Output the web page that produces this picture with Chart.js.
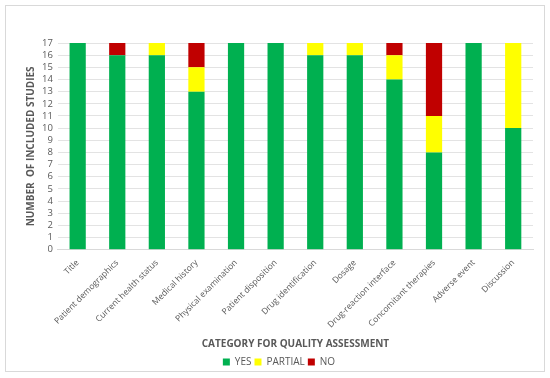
<!DOCTYPE html>
<html>
<head>
<meta charset="utf-8">
<script src="https://cdn.jsdelivr.net/npm/chart.js@4"></script>
<style>
  body { margin: 0; background: #fff; }
  #frame {
    position: absolute; left: 5px; top: 5px;
    width: 538px; height: 365px;
    border: 1px solid #d9d9d9;
  }
  #chart { position: absolute; left: 0; top: 0; }
</style>
</head>
<body>
<div id="frame"></div>
<canvas id="chart" width="550" height="378"></canvas>
<script>
// Categories and counts
const categories = [
    "Title", "Patient demographics", "Current health status", "Medical history",
    "Physical examination", "Patient disposition", "Drug identification", "Dosage",
    "Drug-reaction interface", "Concomitant therapies", "Adverse event", "Discussion"
];
const yesCounts     = [17, 16, 16, 13, 17, 17, 16, 16, 14, 8, 17, 10];
const partialCounts = [0, 0, 1, 2, 0, 0, 1, 1, 2, 3, 0, 7];
const noCounts      = [0, 1, 0, 2, 0, 0, 0, 0, 1, 6, 0, 0];
const yTicks = [0, 1, 2, 3, 4, 5, 6, 7, 8, 9, 10, 11, 12, 13, 14, 15, 16, 17];

const textColor = "#595959";
const fontFamily = "'Open Sans', 'Liberation Sans', sans-serif";

const ctx = document.getElementById("chart").getContext("2d");
new Chart(ctx, {
    type: "bar",
    data: {
        labels: categories,
        datasets: [
            { label: "YES", data: yesCounts, backgroundColor: "#00b050" },
            { label: "PARTIAL", data: partialCounts, backgroundColor: "#ffff00" },
            { label: "NO", data: noCounts, backgroundColor: "#c00000" }
        ]
    },
    options: {
        responsive: false,
        animation: false,
        layout: { padding: { top: 43, right: 17, left: 25, bottom: 1 } },
        datasets: { bar: { barPercentage: 0.41, categoryPercentage: 1.0 } },
        plugins: {
            tooltip: { enabled: false },
            legend: {
                position: "bottom",
                labels: {
                    color: textColor,
                    font: { family: fontFamily, size: 10 },
                    boxWidth: 7, boxHeight: 7, padding: 3
                }
            }
        },
        scales: {
            x: {
                stacked: true,
                grid: { display: false },
                border: { color: "#d9d9d9" },
                ticks: {
                    color: textColor,
                    font: { family: fontFamily, size: 8.5 },
                    maxRotation: 45, minRotation: 45, padding: 0
                },
                title: {
                    display: true,
                    text: "CATEGORY FOR QUALITY ASSESSMENT",
                    color: textColor,
                    font: { family: fontFamily, size: 10, weight: "bold" },
                    padding: { top: 8, bottom: 4 }
                }
            },
            y: {
                stacked: true,
                min: 0, max: 17,
                afterBuildTicks: axis => { axis.ticks = yTicks.map(v => ({ value: v })); },
                grid: { color: "#e3e3e3", drawTicks: false },
                border: { display: false },
                ticks: {
                    color: textColor,
                    font: { family: fontFamily, size: 9.5 },
                    autoSkip: false,
                    padding: 5
                },
                title: {
                    display: true,
                    text: "NUMBER  OF INCLUDED STUDIES",
                    color: textColor,
                    font: { family: fontFamily, size: 10, weight: "bold" },
                    padding: { top: 0, bottom: 0 }
                }
            }
        }
    }
});
</script>
</body>
</html>
